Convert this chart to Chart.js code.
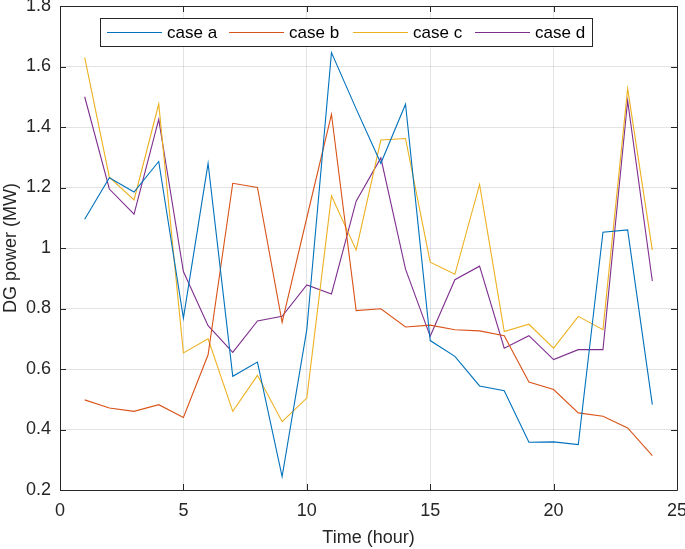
<!DOCTYPE html>
<html>
<head>
<meta charset="utf-8">
<script src="https://cdn.jsdelivr.net/npm/chart.js@4"></script>
<style>
  html, body { margin: 0; padding: 0; background: #fff; }
  #wrap { width: 685px; height: 549px; }
</style>
</head>
<body>
<div id="wrap"><canvas id="dgChart" width="685" height="549"></canvas></div>
<script>
var hours = [1, 2, 3, 4, 5, 6, 7, 8, 9, 10, 11, 12, 13, 14, 15, 16, 17, 18, 19, 20, 21, 22, 23, 24];

var caseA = [1.095, 1.232, 1.185, 1.286, 0.768, 1.28, 0.576, 0.623, 0.244, 0.73, 1.646, 1.46,
             1.28, 1.475, 0.694, 0.642, 0.544, 0.528, 0.358, 0.359, 0.35, 1.052, 1.06, 0.482];
var caseB = [0.498, 0.471, 0.46, 0.482, 0.44, 0.647, 1.214, 1.2, 0.754, 1.1, 1.442, 0.793,
             0.799, 0.739, 0.745, 0.73, 0.726, 0.71, 0.557, 0.532, 0.455, 0.444, 0.405, 0.314];
var caseC = [1.63, 1.234, 1.159, 1.476, 0.653, 0.7, 0.46, 0.579, 0.426, 0.504, 1.173, 0.993,
             1.357, 1.362, 0.953, 0.913, 1.21, 0.724, 0.748, 0.669, 0.774, 0.73, 1.527, 0.993];
var caseD = [1.5, 1.195, 1.112, 1.425, 0.922, 0.743, 0.655, 0.759, 0.774, 0.878, 0.848, 1.155,
             1.298, 0.93, 0.708, 0.895, 0.94, 0.669, 0.71, 0.631, 0.664, 0.664, 1.487, 0.891];

var seriesNames = ['case a', 'case b', 'case c', 'case d'];
var seriesColors = ['#0072BD', '#D95319', '#EDB120', '#7E2F8E'];

var xTicks = [0, 5, 10, 15, 20, 25];
var yTicks = [0.2, 0.4, 0.6, 0.8, 1, 1.2, 1.4, 1.6, 1.8];

var axisColor = '#262626';
var fontFamily = '"Liberation Sans", Arial, Helvetica, sans-serif';

function toPoints(vals) {
    return vals.map(function (v, i) { return { x: hours[i], y: v }; });
}

// MATLAB-like box, inward ticks and legend box
var matlabFrame = {
    id: 'matlabFrame',
    afterDraw: function (chart) {
        var ctx = chart.ctx;
        var a = chart.chartArea;
        var xs = chart.scales.x, ys = chart.scales.y;
        ctx.save();
        ctx.strokeStyle = axisColor;
        ctx.lineWidth = 1;
        ctx.beginPath();
        ctx.rect(Math.round(a.left) + 0.5, Math.round(a.top) + 0.5,
                 Math.round(a.right - a.left), Math.round(a.bottom - a.top));
        ctx.stroke();
        var tl = 6;
        ctx.beginPath();
        xTicks.forEach(function (t) {
            var px = Math.round(xs.getPixelForValue(t)) + 0.5;
            ctx.moveTo(px, a.bottom); ctx.lineTo(px, a.bottom - tl);
            ctx.moveTo(px, a.top); ctx.lineTo(px, a.top + tl);
        });
        yTicks.forEach(function (t) {
            var py = Math.round(ys.getPixelForValue(t)) + 0.5;
            ctx.moveTo(a.left, py); ctx.lineTo(a.left + tl, py);
            ctx.moveTo(a.right, py); ctx.lineTo(a.right - tl, py);
        });
        ctx.stroke();

        // legend
        var bx = 100.5, by = 18.5, bw = 492, bh = 28;
        ctx.fillStyle = '#fff';
        ctx.fillRect(bx, by, bw, bh);
        ctx.strokeStyle = axisColor;
        ctx.strokeRect(bx, by, bw, bh);
        var sampleX = [107, 229, 353, 475];
        ctx.font = '17px ' + fontFamily;
        ctx.textBaseline = 'middle';
        ctx.textAlign = 'left';
        seriesNames.forEach(function (name, i) {
            ctx.strokeStyle = seriesColors[i];
            ctx.beginPath();
            ctx.moveTo(sampleX[i], by + bh / 2);
            ctx.lineTo(sampleX[i] + 55, by + bh / 2);
            ctx.stroke();
            ctx.fillStyle = '#000';
            ctx.fillText(name, sampleX[i] + 60, by + bh / 2 + 1);
        });
        ctx.restore();
    }
};

var datasets = [caseA, caseB, caseC, caseD].map(function (vals, i) {
    return {
        label: seriesNames[i],
        data: toPoints(vals),
        borderColor: seriesColors[i],
        backgroundColor: seriesColors[i],
        borderWidth: 1.1,
        pointRadius: 0,
        tension: 0,
        fill: false
    };
});

new Chart(document.getElementById('dgChart').getContext('2d'), {
    type: 'line',
    data: { datasets: datasets },
    options: {
        responsive: false,
        animation: false,
        events: [],
        layout: { padding: { top: 6, right: 8, left: 0, bottom: 0 } },
        plugins: {
            legend: { display: false },
            tooltip: { enabled: false }
        },
        scales: {
            x: {
                type: 'linear',
                min: 0, max: 25,
                afterBuildTicks: function (s) { s.ticks = xTicks.map(function (v) { return { value: v }; }); },
                afterFit: function (s) { s.height = 59; s.paddingLeft = 0; s.paddingRight = 0; },
                grid: { color: 'rgba(38,38,38,0.13)', drawTicks: false },
                border: { display: false },
                ticks: { color: axisColor, padding: 10, font: { family: fontFamily, size: 18 } },
                title: { display: true, text: 'Time (hour)', color: axisColor, padding: { top: 2, bottom: 0 },
                         font: { family: fontFamily, size: 18 } }
            },
            y: {
                min: 0.2, max: 1.8,
                afterBuildTicks: function (s) { s.ticks = yTicks.map(function (v) { return { value: v }; }); },
                afterFit: function (s) { s.width = 60; s.paddingTop = 0; s.paddingBottom = 0; },
                grid: { color: 'rgba(38,38,38,0.13)', drawTicks: false },
                border: { display: false },
                ticks: {
                    color: axisColor, padding: 9, font: { family: fontFamily, size: 18 },
                    callback: function (v) { return String(Math.round(v * 10) / 10); }
                },
                title: { display: true, text: 'DG power (MW)', color: axisColor, padding: { top: 0, bottom: 2 },
                         font: { family: fontFamily, size: 18 } }
            }
        }
    },
    plugins: [matlabFrame]
});
</script>
</body>
</html>
